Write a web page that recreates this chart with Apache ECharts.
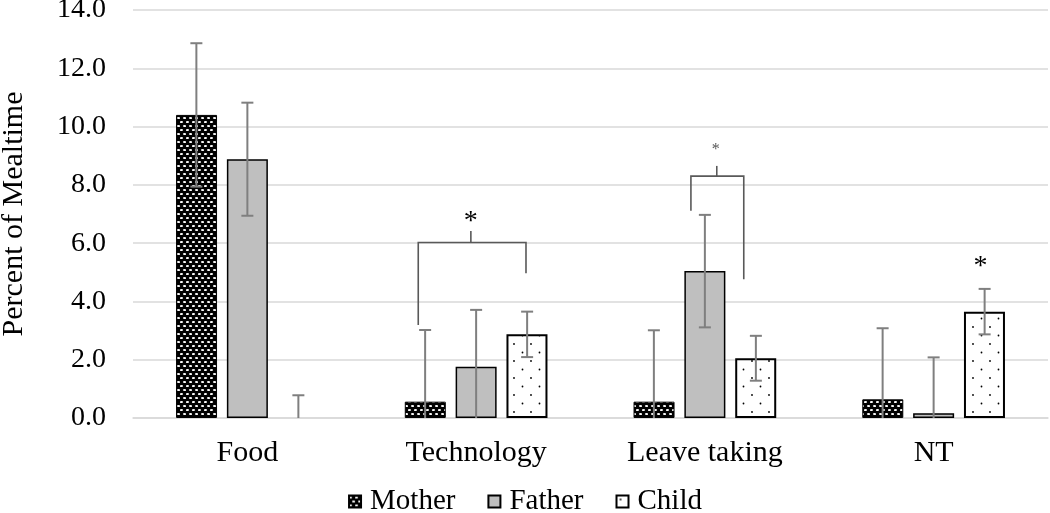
<!DOCTYPE html>
<html>
<head>
<meta charset="utf-8">
<script src="https://cdn.jsdelivr.net/npm/echarts@6/dist/echarts.min.js"></script>
<style>
html,body{margin:0;padding:0;background:#fff;}
#chart{width:1050px;height:513px;}
</style>
</head>
<body>
<div id="chart"></div>
<script>
// ---- data ----
const categories = ['Food', 'Technology', 'Leave taking', 'NT'];
const seriesNames = ['Mother', 'Father', 'Child'];
const mother = [10.4, 0.56, 0.56, 0.64];
const father = [8.88, 1.76, 5.04, 0.16];
const child = [0, 2.87, 2.05, 3.65];
const motherErr = [2.46, 2.46, 2.45, 2.44];
const fatherErr = [1.94, 1.95, 1.93, 1.92];
const childErr = [0.78, 0.78, 0.77, 0.78];
const yTicks = [0, 2, 4, 6, 8, 10, 12, 14];
// significance brackets: [category, leftOffset, rightOffset, tickOffset, barY, leftLegBottom, rightLegBottom, tickTop]
const brackets = [
  [1, -0.253, 0.218, -0.023, 6.02, 3.19, 4.97, 6.42],
  [2, -0.061, 0.170, 0.052, 8.30, 7.11, 4.76, 8.65]
];
// asterisks: [category, offset, y, size]
const stars = [
  [1, -0.023, 6.75, 'big'],
  [2, 0.048, 9.2, 'small'],
  [3, 0.205, 5.2, 'big']
];

// ---- patterns ----
function motherPattern() {
  const c = document.createElement('canvas');
  c.width = 6; c.height = 8;
  const g = c.getContext('2d');
  g.fillStyle = '#000'; g.fillRect(0, 0, 6, 8);
  g.fillStyle = '#fff';
  g.beginPath(); g.ellipse(1.5, 2, 1.6, 0.9, 0, 0, Math.PI * 2); g.fill();
  g.beginPath(); g.ellipse(4.5, 6, 1.6, 0.9, 0, 0, Math.PI * 2); g.fill();
  return c;
}
function childPattern() {
  const c = document.createElement('canvas');
  c.width = 17; c.height = 17;
  const g = c.getContext('2d');
  g.fillStyle = '#fff'; g.fillRect(0, 0, 17, 17);
  g.fillStyle = '#000';
  g.beginPath(); g.arc(4, 4, 0.9, 0, Math.PI * 2); g.fill();
  g.beginPath(); g.arc(12.5, 12.5, 0.9, 0, Math.PI * 2); g.fill();
  return c;
}

const FONT = '"Liberation Serif", "Times New Roman", serif';
const BAR_W = 41, BAR_STEP = 51;
const values = [mother, father, child];
const errs = [motherErr, fatherErr, childErr];

const chart = echarts.init(document.getElementById('chart'), null, {renderer: 'canvas'});

const barStyles = [
  {color: {image: motherPattern(), repeat: 'repeat'}, borderColor: '#000', borderWidth: 1},
  {color: '#bfbfbf', borderColor: '#000', borderWidth: 1.5},
  {color: {image: childPattern(), repeat: 'repeat'}, borderColor: '#000', borderWidth: 2}
];

const barSeries = seriesNames.map((n, i) => ({
  name: n,
  type: 'bar',
  data: values[i].map(v => v === 0 ? {value: v, itemStyle: {borderWidth: 0}} : v),
  barWidth: BAR_W,
  barGap: '24%',
  itemStyle: barStyles[i],
  z: 2
}));

const errData = [];
for (let s = 0; s < 3; s++) {
  for (let k = 0; k < categories.length; k++) {
    errData.push([k, values[s][k], errs[s][k], s]);
  }
}

const errSeries = {
  type: 'custom',
  name: 'err',
  data: errData,
  z: 5,
  silent: true,
  renderItem: function (params, api) {
    const k = api.value(0), v = api.value(1), e = api.value(2), s = api.value(3);
    const hi = v + e;
    const lo = Math.max(0, v - e);
    const pHi = api.coord([k, hi]);
    const pLo = api.coord([k, lo]);
    const x = pHi[0] + (s - 1) * BAR_STEP;
    const style = {stroke: '#7f7f7f', lineWidth: 2};
    const children = [
      {type: 'line', shape: {x1: x, y1: pHi[1], x2: x, y2: pLo[1]}, style},
      {type: 'line', shape: {x1: x - 6, y1: pHi[1], x2: x + 6, y2: pHi[1]}, style}
    ];
    if (v - e > 0) {
      children.push({type: 'line', shape: {x1: x - 6, y1: pLo[1], x2: x + 6, y2: pLo[1]}, style});
    }
    return {type: 'group', children};
  }
};

const bracketSeries = {
  type: 'custom',
  name: 'bracket',
  data: brackets,
  z: 6,
  silent: true,
  renderItem: function (params, api) {
    const k = api.value(0);
    const bw = api.size([1, 0])[0];
    const c = api.coord([k, api.value(4)]);
    const xl = c[0] + api.value(1) * bw;
    const xr = c[0] + api.value(2) * bw;
    const xt = c[0] + api.value(3) * bw;
    const y = c[1];
    const yl = api.coord([k, api.value(5)])[1];
    const yr = api.coord([k, api.value(6)])[1];
    const yt = api.coord([k, api.value(7)])[1];
    const style = {stroke: '#595959', lineWidth: 1.6, fill: null};
    return {type: 'group', children: [
      {type: 'polyline', shape: {points: [[xl, yl], [xl, y], [xr, y], [xr, yr]]}, style},
      {type: 'line', shape: {x1: xt, y1: y, x2: xt, y2: yt}, style}
    ]};
  }
};

const starSeries = {
  type: 'custom',
  name: 'star',
  data: stars,
  z: 6,
  silent: true,
  renderItem: function (params, api) {
    const k = api.value(0);
    const bw = api.size([1, 0])[0];
    const c = api.coord([k, api.value(2)]);
    const big = stars[params.dataIndex][3] === 'big';
    return {
      type: 'text',
      x: c[0] + api.value(1) * bw,
      y: c[1],
      style: {
        text: '*',
        font: (big ? 28 : 16) + 'px ' + FONT,
        fill: big ? '#000' : '#555',
        align: 'center',
        verticalAlign: 'middle'
      }
    };
  }
};

chart.setOption({
  animation: false,
  backgroundColor: '#fff',
  grid: {left: 133, right: 2, top: 10, bottom: 95, containLabel: false, outerBoundsMode: 'none'},
  legend: {
    data: seriesNames,
    bottom: -8,
    left: 'center',
    itemWidth: 12,
    itemHeight: 12,
    itemGap: 32,
    icon: 'rect',
    textStyle: {fontFamily: FONT, fontSize: 29, color: '#000', padding: [0, 0, 0, 4]}
  },
  xAxis: {
    type: 'category',
    data: categories,
    axisTick: {show: false},
    axisLine: {show: true, lineStyle: {color: '#d9d9d9', width: 1.5}},
    axisLabel: {fontFamily: FONT, fontSize: 30, color: '#000', margin: 20}
  },
  yAxis: {
    type: 'value',
    min: yTicks[0],
    max: yTicks[yTicks.length - 1],
    interval: 2,
    name: 'Percent of Mealtime',
    nameLocation: 'middle',
    nameGap: 104,
    nameTextStyle: {fontFamily: FONT, fontSize: 30, color: '#000'},
    axisLine: {show: false},
    axisTick: {show: false},
    splitLine: {lineStyle: {color: '#d9d9d9', width: 1.5}},
    axisLabel: {
      fontFamily: FONT, fontSize: 28, color: '#000', margin: 27,
      formatter: v => v.toFixed(1)
    }
  },
  series: [...barSeries, errSeries, bracketSeries, starSeries]
});
</script>
</body>
</html>
